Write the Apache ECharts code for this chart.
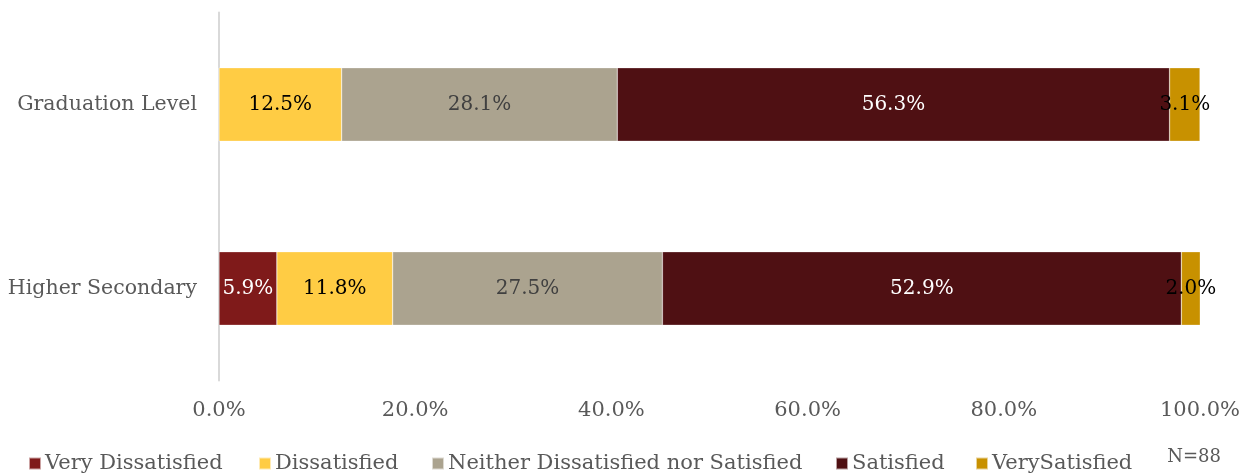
<!DOCTYPE html>
<html><head><meta charset="utf-8">
<script src="https://cdn.jsdelivr.net/npm/echarts@6/dist/echarts.min.js"></script>
<style>html,body{margin:0;padding:0;background:#fff}#c{width:1247px;height:474px}</style>
</head><body><div id="c"></div>
<script>
const categories = ['Graduation Level', 'Higher Secondary'];
const seriesNames = ['Very Dissatisfied', 'Dissatisfied', 'Neither Dissatisfied nor Satisfied', 'Satisfied', 'VerySatisfied'];
const veryDissatisfied = [0, 5.9];
const dissatisfied = [12.5, 11.8];
const neither = [28.1, 27.5];
const satisfied = [56.3, 52.9];
const verySatisfied = [3.1, 2.0];
const xTicks = [0, 20, 40, 60, 80, 100];
const sampleNote = 'N=88';

const values = [veryDissatisfied, dissatisfied, neither, satisfied, verySatisfied];
const colors = ['#7F1A1A', '#FFCC44', '#ABA38F', '#4F1013', '#C89100'];
const labelColors = ['#FFFFFF', '#000000', '#404040', '#FFFFFF', '#000000'];
const FONT = 'DejaVu Serif';
const legendLeft = [28, 258, 431, 835, 975];

const chart = echarts.init(document.getElementById('c'));
chart.setOption({
  animation: false,
  textStyle: { fontFamily: FONT },
  grid: { left: 219, right: 47, top: 12.5, bottom: 93.5 },
  xAxis: {
    type: 'value', min: 0, max: 100, interval: 20,
    axisLine: { show: false }, axisTick: { show: false }, splitLine: { show: false },
    axisLabel: { color: '#595959', fontSize: 21, fontFamily: FONT, margin: 20,
      formatter: v => xTicks.includes(v) ? v.toFixed(1) + '%' : '' }
  },
  yAxis: {
    type: 'category', data: categories, inverse: true,
    axisLine: { lineStyle: { color: '#D9D9D9', width: 2 } },
    axisTick: { show: false },
    axisLabel: { color: '#595959', fontSize: 20.5, fontFamily: FONT, margin: 22 }
  },
  legend: seriesNames.map((n, i) => ({
    data: [n], left: legendLeft[i], top: 453, padding: 0, itemWidth: 12, itemHeight: 12, icon: 'rect',
    itemGap: 4, textStyle: { color: '#595959', fontSize: 21, fontFamily: FONT, padding: [0,0,0,-1] }
  })),
  graphic: [{ type: 'text', right: 26, top: 448,
    style: { text: sampleNote, fill: '#595959', font: '18px "' + FONT + '"' } }],
  series: seriesNames.map((n, i) => ({
    name: n, type: 'bar', stack: 'all', barWidth: '40%',
    data: values[i],
    itemStyle: { color: colors[i], borderColor: 'rgba(255,255,255,0.6)', borderWidth: 0.5 },
    label: { show: true, position: 'inside', color: labelColors[i], fontSize: 20, fontFamily: FONT,
      formatter: p => p.value > 0 ? p.value.toFixed(1) + '%' : '' }
  }))
});
</script></body></html>
